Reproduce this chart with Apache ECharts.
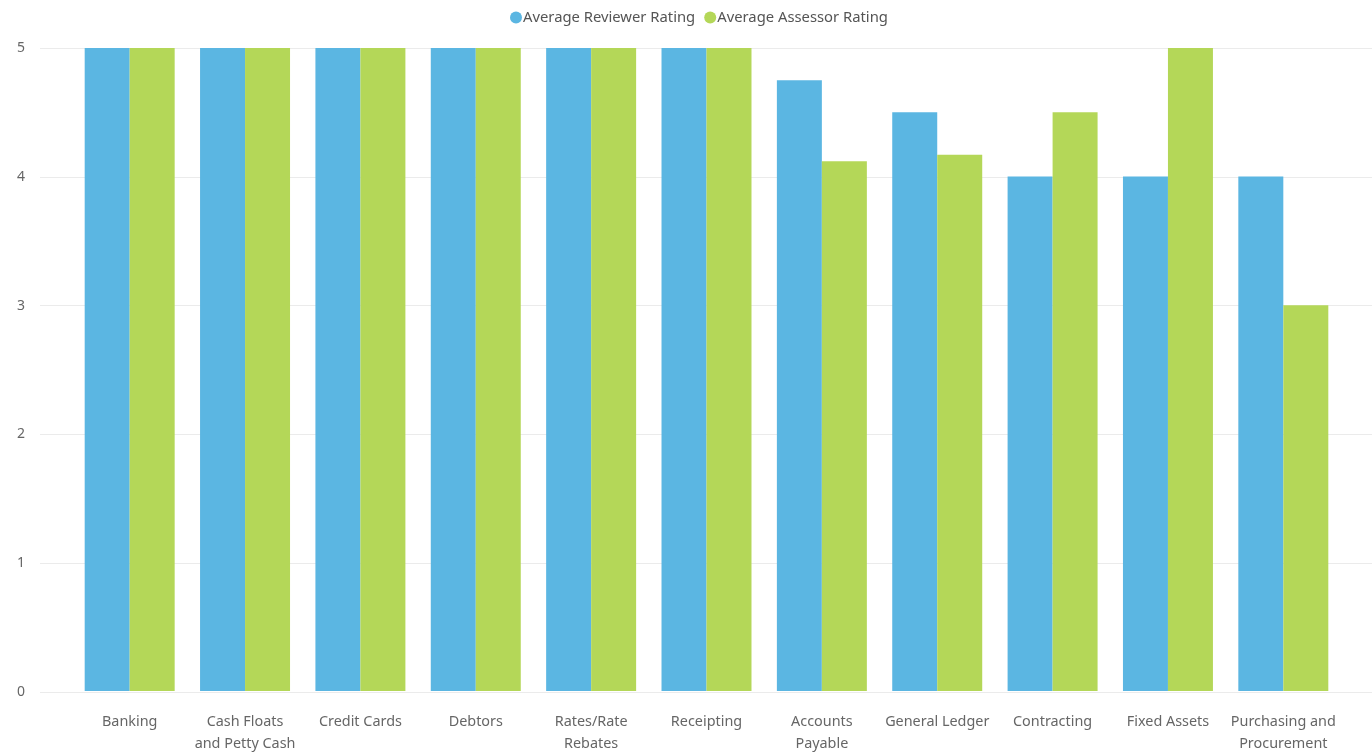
<!DOCTYPE html>
<html>
<head>
    <meta charset="utf-8">
    <title>Ratings</title>
    <script src="https://cdn.jsdelivr.net/npm/echarts@6/dist/echarts.min.js"></script>
    <style>
        html, body { margin: 0; padding: 0; background: #fff; }
    </style>
</head>
<body>
    <div id="main" style="width: 1372px;height:755px;"></div>
    <script type="text/javascript">
    // data
    var categories = ['Banking', 'Cash Floats\nand Petty Cash', 'Credit Cards', 'Debtors', 'Rates/Rate\nRebates',
        'Receipting', 'Accounts\nPayable', 'General Ledger', 'Contracting', 'Fixed Assets', 'Purchasing and\nProcurement'];
    var reviewer = [5, 5, 5, 5, 5, 5, 4.75, 4.5, 4, 4, 4];
    var assessor = [5, 5, 5, 5, 5, 5, 4.12, 4.17, 4.5, 5, 3];
    var yTicks = [0, 1, 2, 3, 4, 5];

    var labelFont = '"Noto Sans", "Open Sans", sans-serif';
    var myChart = echarts.init(document.getElementById('main'));

    var option = {
        animation: false,
        color: ['#5BB6E2', '#B4D758'],
        legend: {
            top: 5,
            left: 505,
            itemGap: 9,
            itemWidth: 12,
            itemHeight: 12,
            icon: 'circle',
            textStyle: { color: '#555', fontSize: 14.8, fontFamily: labelFont, padding: [0, 0, 0, -4] },
            data: ['Average Reviewer Rating', 'Average Assessor Rating']
        },
        grid: [
            // background grid, gridlines run from the labels to the right edge
            { left: 40, right: 0, top: 48, bottom: 63 },
            // bars
            { left: 72, right: 31, top: 48, bottom: 63 }
        ],
        xAxis: [
            { gridIndex: 0, type: 'value', show: false },
            {
                gridIndex: 1,
                type: 'category',
                data: categories,
                axisLine: { show: false },
                axisTick: { show: false },
                axisLabel: {
                    color: '#666',
                    fontSize: 14.4,
                    lineHeight: 22,
                    margin: 20,
                    interval: 0,
                    fontFamily: labelFont
                }
            }
        ],
        yAxis: [
            {
                gridIndex: 0,
                type: 'value',
                min: yTicks[0],
                max: yTicks[yTicks.length - 1],
                interval: 1,
                axisLine: { show: false },
                axisTick: { show: false },
                axisLabel: { color: '#666', fontSize: 14, margin: 15, fontFamily: labelFont },
                splitLine: { lineStyle: { color: '#ebebeb', width: 1 } }
            },
            {
                gridIndex: 1,
                type: 'value',
                min: yTicks[0],
                max: yTicks[yTicks.length - 1],
                interval: 1,
                show: false
            }
        ],
        series: [
            {
                name: 'Average Reviewer Rating',
                type: 'bar',
                xAxisIndex: 1,
                yAxisIndex: 1,
                barGap: 0,
                barCategoryGap: '22%',
                data: reviewer
            },
            {
                name: 'Average Assessor Rating',
                type: 'bar',
                xAxisIndex: 1,
                yAxisIndex: 1,
                barGap: 0,
                barCategoryGap: '22%',
                data: assessor
            }
        ]
    };

    myChart.setOption(option);
    </script>
</body>
</html>
